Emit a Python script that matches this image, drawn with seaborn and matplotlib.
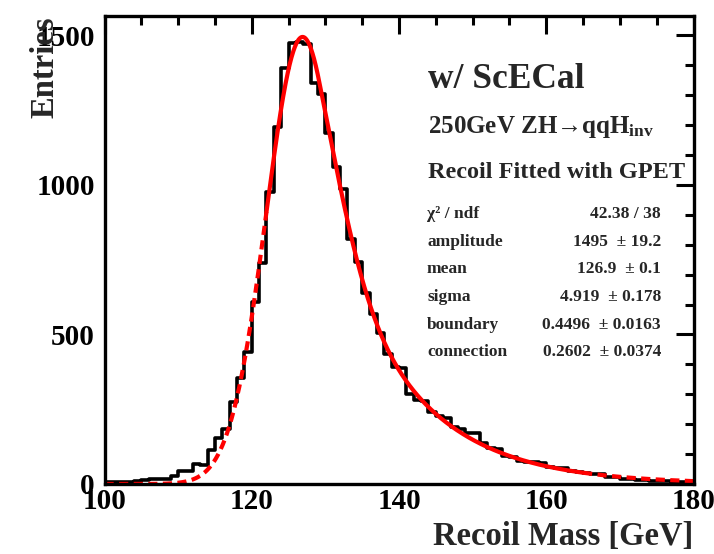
import numpy as np
import pandas as pd
import matplotlib
matplotlib.use("Agg")
import matplotlib.pyplot as plt
import seaborn as sns
from matplotlib.ticker import MultipleLocator

# Recoil mass histogram, 1 GeV bins from 100 to 180 GeV
bin_edges = list(range(100, 181))
entries = [
    5, 5, 8, 8, 10, 12, 15, 15, 18, 25,            # 100-109
    45, 45, 68, 65, 115, 155, 185, 275, 355, 440,  # 110-119
    610, 740, 975, 1195, 1390, 1475, 1478, 1470, 1340, 1305,  # 120-129
    1175, 1060, 985, 820, 742, 640, 568, 505, 435, 390,       # 130-139
    388, 302, 280, 278, 240, 226, 222, 192, 185, 172,         # 140-149
    170, 137, 120, 116, 95, 90, 77, 75, 72, 70,               # 150-159
    58, 55, 54, 42, 40, 36, 34, 32, 24, 22,                   # 160-169
    17, 15, 14, 12, 11, 10, 9, 8, 7, 6,                       # 170-179
]

# GPET fit result
chi2, ndf = 42.38, 38
amplitude, amplitude_err = 1495, 19.2
mean, mean_err = 126.9, 0.1
sigma, sigma_err = 4.919, 0.178
boundary, boundary_err = 0.4496, 0.0163
connection, connection_err = 0.2602, 0.0374
fit_lo, fit_hi = 122.0, 165.0

x_ticks = [100, 120, 140, 160, 180]
y_ticks = [0, 500, 1000, 1500]


def gpet(x):
    t = (x - mean) / sigma
    gauss = np.exp(-0.5 * t ** 2)
    tail = np.exp(0.5 * boundary ** 2 - boundary * t)
    right = (1 - connection) * tail + connection * gauss
    return amplitude * np.where(t <= boundary, gauss, right)


sns.set_style("white")
plt.rcParams["font.family"] = ["Liberation Serif", "DejaVu Serif"]
plt.rcParams["font.weight"] = "bold"
plt.rcParams["mathtext.fontset"] = "custom"
plt.rcParams["mathtext.rm"] = "Liberation Serif:bold"
plt.rcParams["mathtext.it"] = "Liberation Serif:bold"
plt.rcParams["mathtext.bf"] = "Liberation Serif:bold"

fig = plt.figure(figsize=(7.14, 5.54), dpi=100)
ax = fig.add_axes([0.1464, 0.1264, 0.9713 - 0.1464, 0.9711 - 0.1264])

centers = np.array(bin_edges[:-1]) + 0.5
hist_df = pd.DataFrame({"mass": centers, "entries": entries})
sns.histplot(data=hist_df, x="mass", weights="entries", bins=bin_edges,
             element="step", fill=False, color="black", linewidth=2.6, ax=ax)

# fitted function: solid inside the fit range, dashed outside
xs = np.linspace(bin_edges[0], bin_edges[-1], 1601)
fit_df = pd.DataFrame({"mass": xs, "fit": gpet(xs)})
inside = fit_df[(fit_df.mass >= fit_lo) & (fit_df.mass <= fit_hi)]
left = fit_df[fit_df.mass <= fit_lo]
right = fit_df[fit_df.mass >= fit_hi]
sns.lineplot(data=inside, x="mass", y="fit", color="red", linewidth=3.0, ax=ax)
for part in (left, right):
    sns.lineplot(data=part, x="mass", y="fit", color="red", linewidth=3.0,
                 dashes=False, ax=ax, linestyle=(0, (2.2, 1.3)))

ax.set_xlim(100, 180)
ax.set_ylim(0, 1565)
ax.set_xticks(x_ticks)
ax.set_yticks(y_ticks)
ax.xaxis.set_minor_locator(MultipleLocator(5))
ax.yaxis.set_minor_locator(MultipleLocator(100))
ax.tick_params(which="both", direction="in", top=True, right=True,
               width=2.2, labelsize=21, colors="black")
ax.tick_params(which="major", length=13)
ax.tick_params(axis="x", which="major", pad=3)
ax.tick_params(axis="y", which="major", pad=7)
ax.tick_params(which="minor", length=6.5)
for lab in ax.get_xticklabels() + ax.get_yticklabels():
    lab.set_fontweight("bold")
for sp in ax.spines.values():
    sp.set_linewidth(2.4)
    sp.set_color("black")

ax.set_xlabel("")
ax.set_ylabel("")
fig.text(0.9713, 0.003, "Recoil Mass [GeV]", ha="right", va="bottom",
         fontsize=23.5, fontweight="bold")
fig.text(0.063, 0.9711, "Entries", ha="center", va="top", rotation=90,
         fontsize=23.5, fontweight="bold")

fig.text(428 / 714, 1 - 88 / 554, "w/ ScECal", ha="left", va="baseline",
         fontsize=25.5, fontweight="bold")
fig.text(428 / 714, 1 - 133 / 554, r"250GeV ZH→qqH$_{\mathregular{inv}}$",
         ha="left", va="baseline", fontsize=18, fontweight="bold")
fig.text(428 / 714, 1 - 178 / 554, "Recoil Fitted with GPET", ha="left",
         va="baseline", fontsize=17.5, fontweight="bold")

rows = [
    ("χ² / ndf", f"{chi2:.2f} / {ndf}"),
    ("amplitude", f"{amplitude}  ± {amplitude_err}"),
    ("mean", f"{mean}  ± {mean_err}"),
    ("sigma", f"{sigma}  ± {sigma_err}"),
    ("boundary", f"{boundary}  ± {boundary_err}"),
    ("connection", f"{connection}  ± {connection_err}"),
]
for i, (name, value) in enumerate(rows):
    yb = 1 - (218 + i * 27.7) / 554
    fig.text(427 / 714, yb, name, ha="left", va="baseline", fontsize=12.5,
             fontweight="bold")
    fig.text(661 / 714, yb, value, ha="right", va="baseline", fontsize=12.5,
             fontweight="bold")

fig.savefig("out.png", dpi=100)
